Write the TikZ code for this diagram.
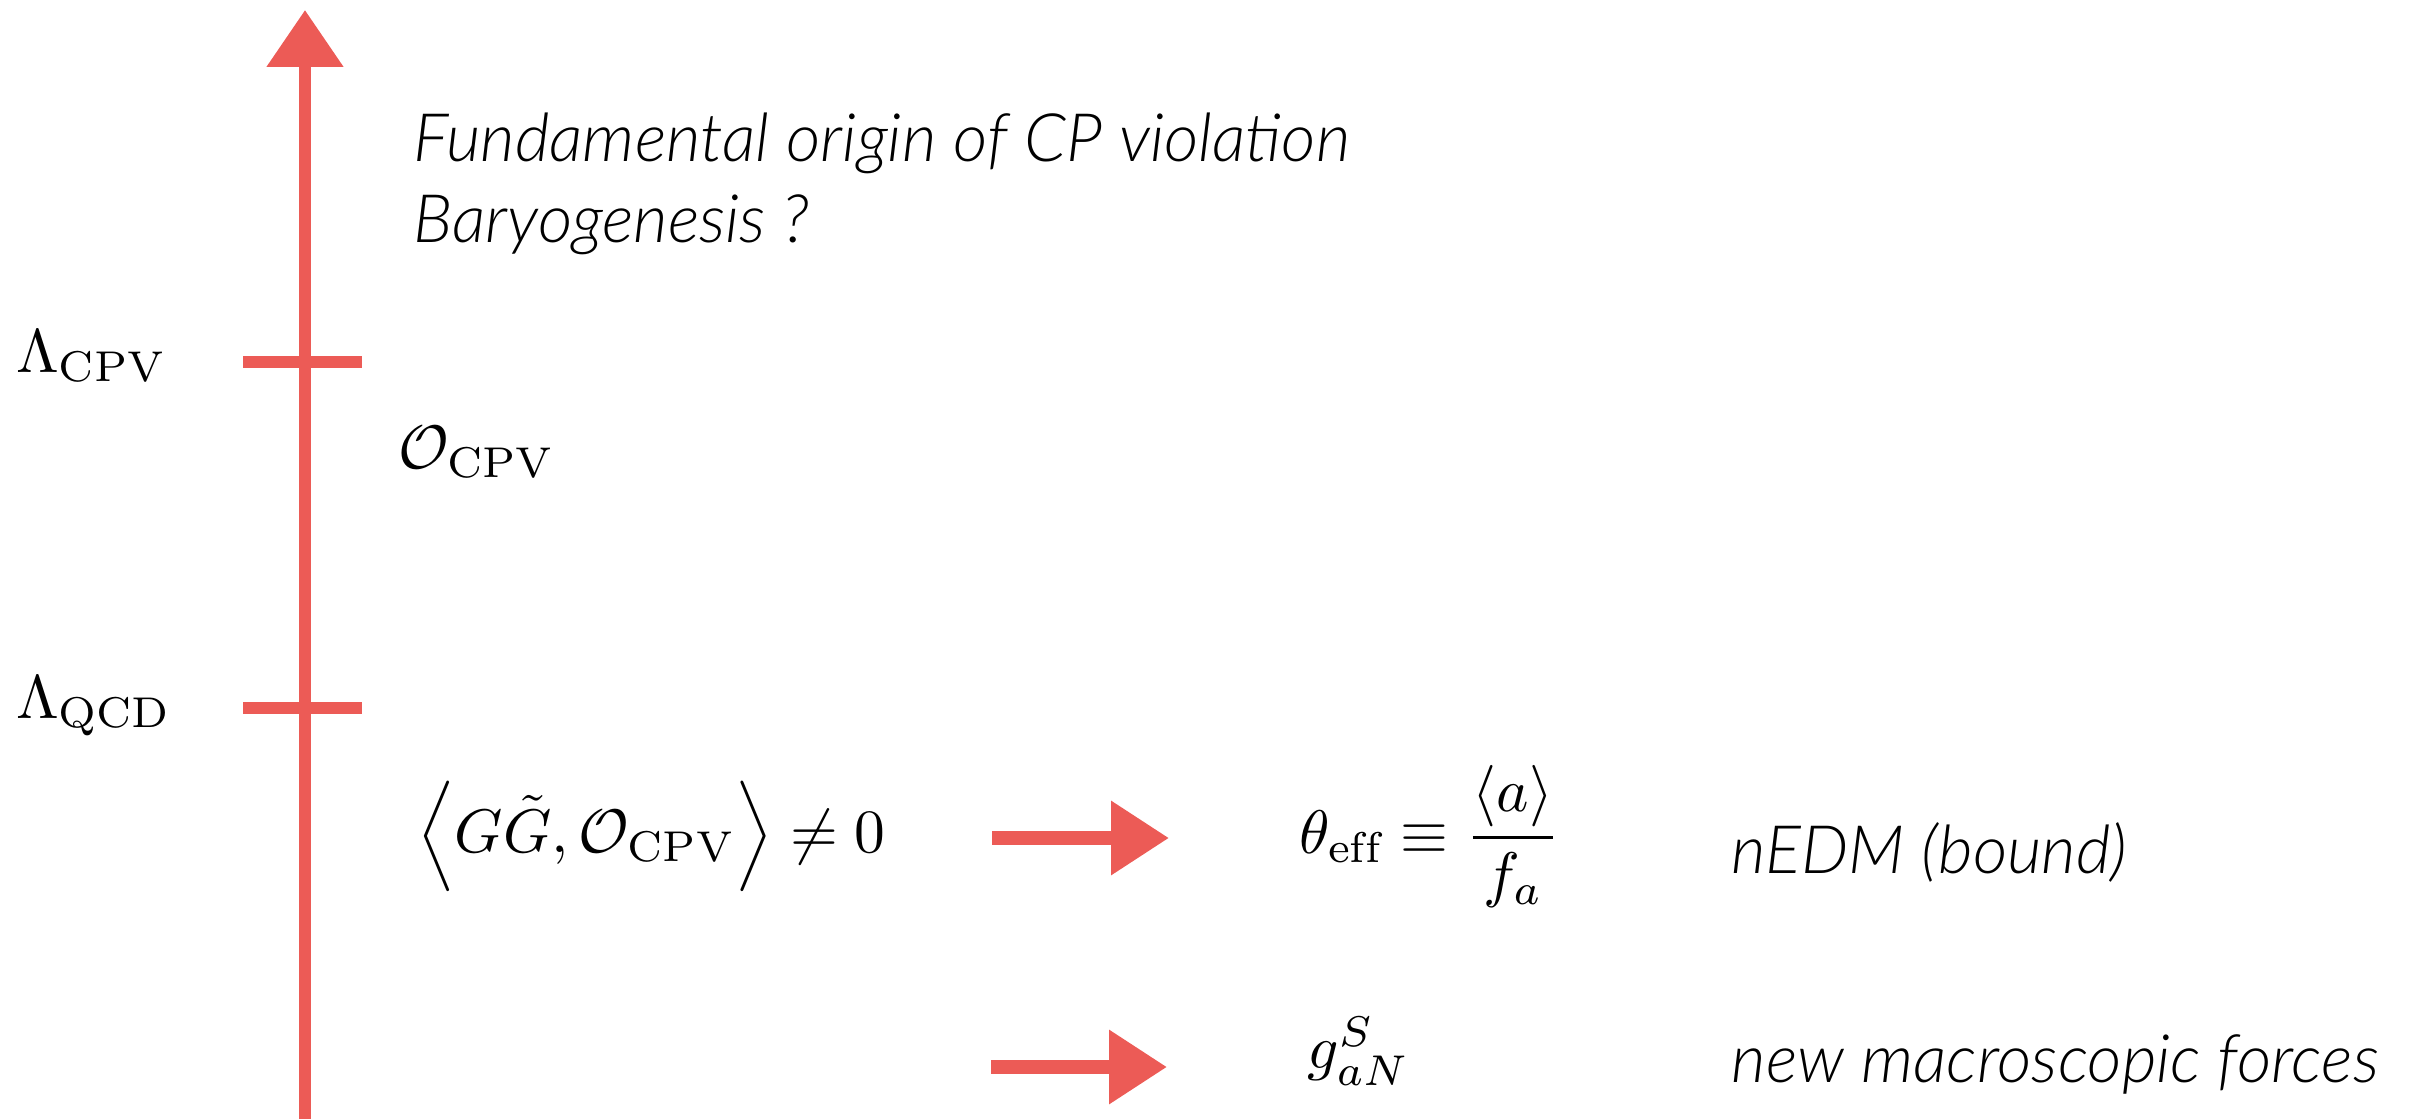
\documentclass[tikz,border=0pt]{standalone}
\usepackage{fontspec}
\usepackage{amsmath, amssymb}
\usetikzlibrary{positioning, calc, arrows.meta}
\newfontfamily\gillfont{Lato}[UprightFont=* Light, ItalicFont=* Light Italic]
\definecolor{Chalk}{HTML}{EC5B56}
\tikzset{
    scaleline/.style={draw=Chalk, line width=3.4pt, -{Triangle[length=0.57cm, width=0.74cm]}},
    tickline/.style={draw=Chalk, line width=3.6pt},
    flowarrow/.style={draw=Chalk, line width=3.8pt, -{Triangle[length=0.58cm, width=0.71cm]}},
    mathlabel/.style={inner sep=0pt, scale=1.75, font=\normalsize},
    textlabel/.style={inner sep=0pt, font=\gillfont\itshape\fontsize{19}{23}\selectfont},
}
\begin{document}
\begin{tikzpicture}
    \useasboundingbox (0,0) rectangle (24.24,11.19);

    % Asse delle energie
    \coordinate (base) at (3.05,0);
    \coordinate (top) at (3.05,11.09);
    \draw[scaleline] (base) -- (top);

    % Tacche delle scale
    \foreach \ypos/\nm in {7.57/cpv, 4.11/qcd} {
        \coordinate (\nm-l) at (2.43,\ypos);
        \coordinate (\nm-r) at (3.62,\ypos);
        \draw[tickline] (\nm-l) -- (\nm-r);
    }
    \node[mathlabel, anchor=base west] (lcpv) at (0.15,7.47) {$\Lambda_{\mathrm{CPV}}$};
    \node[mathlabel, anchor=base west] (lqcd) at (0.15,4.01) {$\Lambda_{\mathrm{QCD}}$};

    % Sopra la scala
    \node[textlabel, anchor=base west] (origin) at (4.13,9.58) {Fundamental origin of CP violation};
    \node[textlabel, anchor=base west] (baryo) at (4.13,8.76) {Baryogenesis ?};
    \node[mathlabel, anchor=base west] (ocpv) at (3.97,6.51) {$\mathcal{O}_{\mathrm{CPV}}$};

    % Sotto la scala
    \node[mathlabel, anchor=base west] (vev) at (4.16,2.67) {$\Bigl\langle G\tilde{G},\mathcal{O}_{\mathrm{CPV}}\Bigr\rangle\neq 0$};
    \coordinate (go1) at (9.92,2.81);
    \coordinate (end1) at (11.69,2.81);
    \draw[flowarrow] (go1) -- (end1);
    \node[mathlabel, anchor=base west] (theta) at (12.98,2.66) {$\theta_{\mathrm{eff}}\equiv\dfrac{\langle a\rangle}{f_a}$};
    \node[textlabel, anchor=base west] (nedm) at (17.31,2.46) {nEDM (bound)};

    \coordinate (go2) at (9.91,0.52);
    \coordinate (end2) at (11.67,0.52);
    \draw[flowarrow] (go2) -- (end2);
    \node[mathlabel, anchor=west] (gan) at (13.06,0.68) {$g_{aN}^{S}$};
    \node[textlabel, anchor=base west] (forces) at (17.31,0.37) {new macroscopic forces};
\end{tikzpicture}
\end{document}
